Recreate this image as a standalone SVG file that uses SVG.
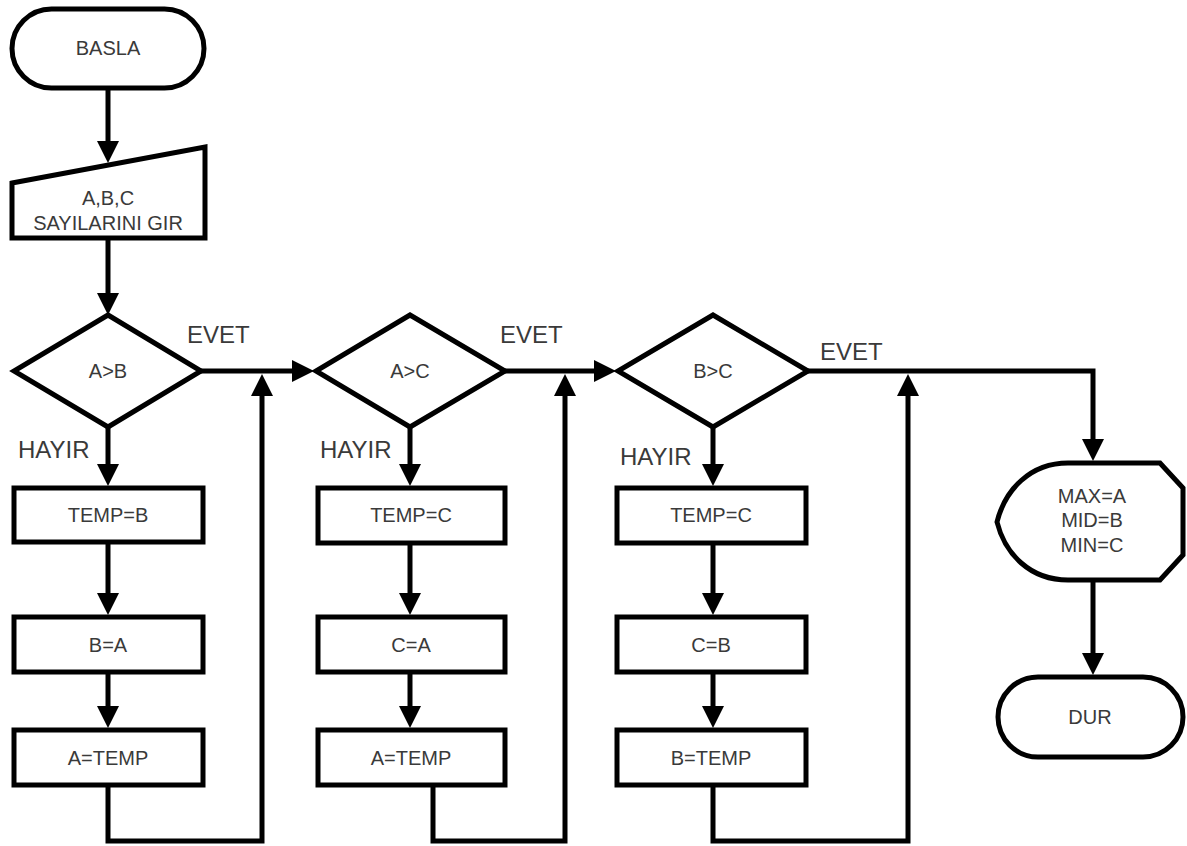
<svg xmlns="http://www.w3.org/2000/svg" width="1187" height="846" viewBox="0 0 1187 846">
<defs>
<marker id="ah" markerUnits="userSpaceOnUse" markerWidth="24" markerHeight="24" refX="14" refY="11" orient="auto">
<path d="M0,0 L22,11 L0,22 Z" fill="#000"/>
</marker>
<style>
.s{fill:#fff;stroke:#000;stroke-width:5;stroke-linejoin:miter}
.c{fill:none;stroke:#000;stroke-width:5}
.t{font-family:"Liberation Sans",Arial,sans-serif;font-size:20px;fill:#3a3a3a;text-anchor:middle}
.l{font-family:"Liberation Sans",Arial,sans-serif;font-size:24px;fill:#3a3a3a}
</style>
</defs>
<rect width="1187" height="846" fill="#fff"/>
<g id="connectors">
<path class="c" d="M108,88 V155" marker-end="url(#ah)"/>
<path class="c" d="M108,238 V307" marker-end="url(#ah)"/>
<path class="c" d="M108,427 V478" marker-end="url(#ah)"/>
<path class="c" d="M108,542 V607" marker-end="url(#ah)"/>
<path class="c" d="M108,672 V720" marker-end="url(#ah)"/>
<path class="c" d="M108,785 V841 H262 V382" marker-end="url(#ah)"/>
<path class="c" d="M201,371 H306" marker-end="url(#ah)"/>
<path class="c" d="M410,427 V478" marker-end="url(#ah)"/>
<path class="c" d="M410,543 V607" marker-end="url(#ah)"/>
<path class="c" d="M410,672 V720" marker-end="url(#ah)"/>
<path class="c" d="M433,785 V841 H565 V382" marker-end="url(#ah)"/>
<path class="c" d="M505,371 H608" marker-end="url(#ah)"/>
<path class="c" d="M713,427 V478" marker-end="url(#ah)"/>
<path class="c" d="M713,543 V607" marker-end="url(#ah)"/>
<path class="c" d="M713,672 V720" marker-end="url(#ah)"/>
<path class="c" d="M713,785 V841 H908 V382" marker-end="url(#ah)"/>
<path class="c" d="M808,371 H1093 V453" marker-end="url(#ah)"/>
<path class="c" d="M1093,580 V667" marker-end="url(#ah)"/>
<text class="l" x="187" y="343">EVET</text>
<text class="l" x="18" y="458">HAYIR</text>
<text class="l" x="500" y="343">EVET</text>
<text class="l" x="320" y="458">HAYIR</text>
<text class="l" x="820" y="360">EVET</text>
<text class="l" x="620" y="465">HAYIR</text>
</g>
<g id="basla">
<rect class="s" x="12" y="9" width="192" height="79" rx="39.5"/>
<text class="t" x="108" y="55">BASLA</text>
</g>
<g id="input">
<path class="s" d="M12,183 L205,147 L205,238 L12,238 Z"/>
<text class="t" x="108" y="205">A,B,C</text>
<text class="t" x="108" y="230">SAYILARINI GIR</text>
</g>
<g id="d1">
<path class="s" d="M108,315 L201,371 L108,427 L14,371 Z"/>
<text class="t" x="108" y="378">A&gt;B</text>
</g>
<g id="b11">
<rect class="s" x="14" y="488" width="189" height="54"/>
<text class="t" x="108" y="522">TEMP=B</text>
</g>
<g id="b12">
<rect class="s" x="14" y="617" width="189" height="55"/>
<text class="t" x="108" y="652">B=A</text>
</g>
<g id="b13">
<rect class="s" x="14" y="730" width="189" height="55"/>
<text class="t" x="108" y="765">A=TEMP</text>
</g>
<g id="d2">
<path class="s" d="M410,315 L505,371 L410,427 L316,371 Z"/>
<text class="t" x="410" y="378">A&gt;C</text>
</g>
<g id="b21">
<rect class="s" x="318" y="488" width="187" height="55"/>
<text class="t" x="411" y="522">TEMP=C</text>
</g>
<g id="b22">
<rect class="s" x="318" y="617" width="187" height="55"/>
<text class="t" x="411" y="652">C=A</text>
</g>
<g id="b23">
<rect class="s" x="318" y="730" width="187" height="55"/>
<text class="t" x="411" y="765">A=TEMP</text>
</g>
<g id="d3">
<path class="s" d="M713,315 L808,371 L713,427 L618,371 Z"/>
<text class="t" x="713" y="378">B&gt;C</text>
</g>
<g id="b31">
<rect class="s" x="617" y="488" width="189" height="55"/>
<text class="t" x="711" y="522">TEMP=C</text>
</g>
<g id="b32">
<rect class="s" x="617" y="617" width="189" height="55"/>
<text class="t" x="711" y="652">C=B</text>
</g>
<g id="b33">
<rect class="s" x="617" y="730" width="189" height="55"/>
<text class="t" x="711" y="765">B=TEMP</text>
</g>
<g id="display">
<path class="s" d="M1160,463 L1068,463 C1030,463 1005,490 997,522 C1005,554 1030,580 1068,580 L1160,580 L1183,555 L1183,488 Z"/>
<text class="t" x="1092" y="503">MAX=A</text>
<text class="t" x="1092" y="527">MID=B</text>
<text class="t" x="1092" y="552">MIN=C</text>
</g>
<g id="dur">
<rect class="s" x="998" y="677" width="185" height="80" rx="40"/>
<text class="t" x="1090" y="724">DUR</text>
</g>
</svg>
